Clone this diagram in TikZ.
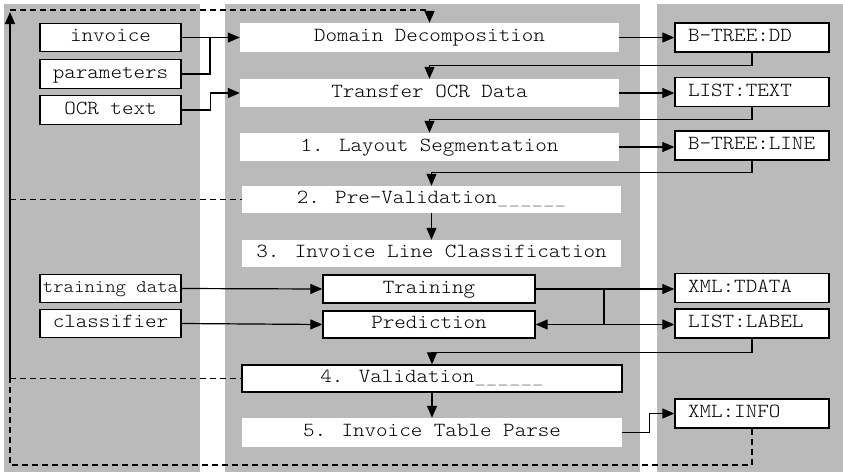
\documentclass[tikz,border=0pt]{standalone}
\usepackage{fontspec}
\newfontfamily\boxfont{lmmonolt10-regular.otf}[FakeStretch=1.1]
\usetikzlibrary{arrows.meta}
\definecolor{colshade}{gray}{0.73}
\definecolor{uline}{gray}{0.55}
\tikzset{
  every node/.style={font=\boxfont\fontsize{20}{24}\selectfont, inner sep=0pt,
                     text height=11pt, text depth=3pt},
  wbox/.style={fill=white},
  bbox/.style={fill=white, draw=black, line width=1.3pt},
  lbox/.style={bbox, minimum width=141pt, minimum height=28.5pt},
  rbox/.style={bbox, minimum width=154pt, minimum height=29pt, text width=128pt, align=left},
  link/.style={line width=1.2pt},
  tip/.style={-{Triangle[length=12pt,width=10pt]}},
  arr/.style={line width=1.2pt, tip},
  dlink/.style={line width=1.6pt, dash pattern=on 6pt off 4pt},
}
\newcommand{\gapline}{{\color{uline}\_\_\_\_\_\_}}
\begin{document}
\begin{tikzpicture}[x=1pt,y=-1pt]
\useasboundingbox (0,0) rectangle (843,472);
% shaded columns
\fill[white] (0,0) rectangle (843,472);
\fill[colshade] (4,4) rectangle (200,472);
\fill[colshade] (225,4) rectangle (640,472);
\fill[colshade] (657,4) rectangle (843,472);

% input boxes
\node[lbox] (inv) at (110.5,37.5) {invoice};
\node[lbox] (par) at (110.5,74) {parameters};
\node[lbox] (ocr) at (110.5,110) {OCR text};
\node[lbox, font=\boxfont\fontsize{18}{20}\selectfont] (tdat) at (110.5,288.5) {training data};
\node[lbox] (cls) at (110.5,323.5) {classifier};

% processing steps
\node[wbox, minimum width=379pt, minimum height=29pt] (dd) at (429.5,37.5) {Domain Decomposition};
\node[wbox, minimum width=379pt, minimum height=28pt] (tod) at (429.5,93) {Transfer OCR Data};
\node[wbox, minimum width=379pt, minimum height=28pt] (lay) at (429.5,147) {1. Layout Segmentation};
\node[wbox, minimum width=379pt, minimum height=27pt] (pre) at (431.5,199.5) {2. Pre-Validation\gapline};
\node[wbox, minimum width=379pt, minimum height=27pt] (ilc) at (431.5,253.5) {3. Invoice Line Classification};
\node[bbox, minimum width=212pt, minimum height=28pt] (trn) at (429,289) {Training};
\node[bbox, minimum width=212pt, minimum height=27pt] (prd) at (429,324.5) {Prediction};
\node[bbox, minimum width=380pt, minimum height=27pt] (val) at (432,378.5) {4. Validation\gapline};
\node[wbox, minimum width=380pt, minimum height=29pt] (itp) at (432,432.5) {5. Invoice Table Parse};

% data structures
\node[rbox] (btdd) at (752,37.5) {B-TREE:DD};
\node[rbox] (ltxt) at (752,92) {LIST:TEXT};
\node[rbox] (btln) at (752,145.5) {B-TREE:LINE};
\node[rbox] (xtd) at (752,288) {XML:TDATA};
\node[rbox] (llab) at (752,323.5) {LIST:LABEL};
\node[rbox] (xinf) at (752,413.5) {XML:INFO};

% helper points
\coordinate (mj) at (210,37.5);
\coordinate (tj) at (604,289);
\coordinate (pj) at (604,324.5);
\coordinate (ctl) at (10,10);
\coordinate (ctip) at (10,12);
\coordinate (cpre) at (10,199.5);
\coordinate (cval) at (10,378.5);
\coordinate (cbl) at (10,465);

% inputs
\draw[arr] (inv.east) -- (dd.west);
\draw[link] (par.east) -| (mj);
\draw[arr] (ocr.east) -- ++(29,0) |- (tod.west);
\draw[arr] (tdat.east) -- (trn.west);
\draw[arr] (cls.east) -- (prd.west);

% step outputs and feedback
\draw[arr] (dd.east) -- (dd.east -| btdd.west);
\draw[arr] (btdd.south) -- ++(0,13) -| (tod.north);
\draw[arr] (tod.east) -- (tod.east -| ltxt.west);
\draw[arr] (ltxt.south) -- ++(0,12) -| (lay.north);
\draw[arr] (lay.east) -- (lay.east -| btln.west);
\draw[arr] (btln.south) -- ++(0,12) -| (pre.north);
\draw[arr] (pre.south) -- (ilc.north);
\draw[arr] (trn.east) -- (trn.east -| xtd.west);
\draw[link] (tj) -- (pj);
\draw[line width=1.2pt, {Triangle[length=12pt,width=10pt]}-{Triangle[length=12pt,width=10pt]}]
  (prd.east) -- (prd.east -| llab.west);
\draw[arr] (llab.south) -- ++(0,14) -| (val.north);
\draw[arr] (val.south) -- (itp.north);
\draw[arr] (itp.east) -- ++(27,0) |- (xinf.west);

% validation loop
\draw[dlink] (xinf.south) |- (cbl) -- (cval);
\draw[dlink] (cval) -- (val.west);
\draw[dlink] (cpre) -- (pre.west);
\draw[arr] (cval) -- (ctip);
\draw[dlink, tip] (ctl) -| (dd.north);
\end{tikzpicture}
\end{document}
